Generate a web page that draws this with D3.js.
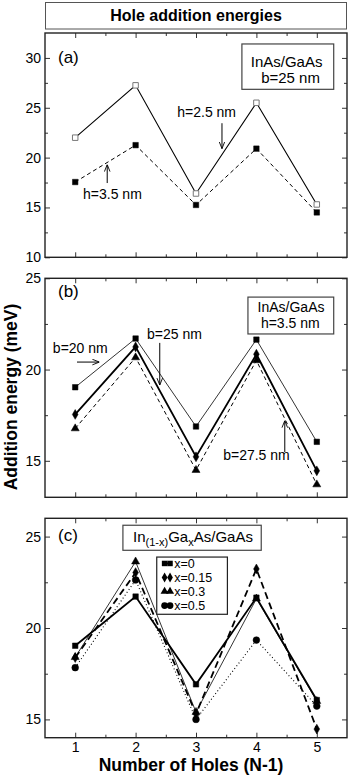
<!DOCTYPE html>
<html>
<head>
<meta charset="utf-8">
<script src="https://cdn.jsdelivr.net/npm/d3@7"></script>
<style>
  body { margin: 0; background: #fff; }
  svg text { font-family: "Liberation Sans", Arial, Helvetica, sans-serif; fill: #000; }
</style>
</head>
<body>
<svg id="chart" width="360" height="779"></svg>
<script>
// data
const holes = [1, 2, 3, 4, 5];
const xMinor = [1.5, 2.5, 3.5, 4.5];

// (a) InAs/GaAs, b=25 nm
const aH25 = [22.0, 27.25, 16.4, 25.5, 15.3];
const aH35 = [17.55, 21.25, 15.25, 20.9, 14.5];

// (b) InAs/GaAs, h=3.5 nm
const bB20 = [19.03, 21.7, 16.88, 21.64, 16.04];
const bB25 = [17.54, 21.24, 15.22, 20.84, 14.45];
const bB275 = [16.77, 20.66, 14.49, 20.5, 13.7];

// (c) In(1-x)GaxAs/GaAs
const cX0 = [19.03, 21.72, 16.92, 21.66, 16.06];
const cX015 = [18.38, 23.03, 15.3, 23.23, 14.47];
const cX03 = [18.4, 23.63, 15.4, 21.6, 16.0];
const cX05 = [17.83, 22.63, 15.0, 19.34, 15.73];
const legendLabels = ["x=0", "x=0.15", "x=0.3", "x=0.5"];

const svg = d3.select("#chart");
const x = d3.scaleLinear().domain([0.5, 5.5]).range([45, 347]);

const sq = d3.symbol().type(d3.symbolSquare);
const dia = d3.symbol().type(d3.symbolDiamond);
const tri = d3.symbol().type(d3.symbolTriangle);
const circ = d3.symbol().type(d3.symbolCircle);

// arrowhead
svg.append("defs").append("marker")
    .attr("id", "arr")
    .attr("viewBox", "0 0 10 10")
    .attr("refX", 10).attr("refY", 5)
    .attr("markerWidth", 7).attr("markerHeight", 7)
    .attr("markerUnits", "userSpaceOnUse")
    .attr("orient", "auto")
  .append("path")
    .attr("d", "M0,1 L10,5 L0,9")
    .attr("fill", "none")
    .attr("stroke", "#000")
    .attr("stroke-width", 1.3);

// title box
svg.append("rect")
    .attr("x", 45.5).attr("y", 2.5).attr("width", 301).attr("height", 26.5)
    .attr("fill", "#fff").attr("stroke", "#555").attr("stroke-width", 1);
svg.append("text")
    .attr("x", 196).attr("y", 21)
    .attr("text-anchor", "middle")
    .style("font-size", "16px").style("font-weight", "bold")
    .text("Hole addition energies");

const panels = [
  {
    label: "(a)", labelY: 29.5, top: 33, bottom: 257.3, domain: [10, 32.5],
    major: [10, 15, 20, 25, 30], minor: [12.5, 17.5, 22.5, 27.5],
    xLabels: false,
    series: [
      {v: aH25, sym: sq.size(26), fill: "#fff", stroke: "#777", dash: null, w: 1.1},
      {v: aH35, sym: sq.size(30), fill: "#000", stroke: "#000", dash: "4,3", w: 1}
    ],
    box: {x0: 3.76, x1: 5.28, y0: 31.4, y1: 26.85, size: 15,
          lines: [{t: "InAs/GaAs", x: 4.5, y: 29.12}, {t: "b=25 nm", x: 4.565, y: 27.45}]},
    notes: [
      {t: "h=2.5 nm", x: 2.69, y: 24.05},
      {t: "h=3.5 nm", x: 1.13, y: 15.85}
    ],
    arrows: [
      {x1: 3.43, y1: 23.45, x2: 3.43, y2: 20.9},
      {x1: 1.53, y1: 17.45, x2: 1.53, y2: 19.3}
    ]
  },
  {
    label: "(b)", labelY: 24.0, top: 278.3, bottom: 497.3, domain: [13, 25],
    major: [15, 20, 25], minor: [17.5, 22.5],
    xLabels: false,
    series: [
      {v: bB20, sym: sq.size(30), fill: "#000", stroke: "#000", dash: null, w: 0.8},
      {v: bB25, sym: dia.size(28), fill: "#000", stroke: "#000", dash: null, w: 1.8},
      {v: bB275, sym: tri.size(26), fill: "#000", stroke: "#000", dash: "4,3", w: 1}
    ],
    box: {x0: 3.86, x1: 5.28, y0: 23.97, y1: 21.95, size: 14,
          lines: [{t: "InAs/GaAs", x: 4.573, y: 23.15}, {t: "h=3.5 nm", x: 4.561, y: 22.27}]},
    notes: [
      {t: "b=20 nm", x: 0.63, y: 20.9},
      {t: "b=25 nm", x: 2.19, y: 21.68},
      {t: "b=27.5 nm", x: 3.45, y: 15.04}
    ],
    arrows: [
      {x1: 1.03, y1: 20.41, x2: 1.4, y2: 20.41},
      {x1: 2.4, y1: 21.46, x2: 2.4, y2: 19.15},
      {x1: 4.47, y1: 15.48, x2: 4.47, y2: 17.2}
    ]
  },
  {
    label: "(c)", labelY: 24.75, top: 518.3, bottom: 737.7, domain: [14, 26],
    major: [15, 20, 25], minor: [17.5, 22.5],
    xLabels: true,
    series: [
      {v: cX0, sym: sq.size(30), fill: "#000", stroke: "#000", dash: null, w: 1.8},
      {v: cX015, sym: dia.size(28), fill: "#000", stroke: "#000", dash: "7,4", w: 1.8},
      {v: cX03, sym: tri.size(28), fill: "#000", stroke: "#000", dash: null, w: 0.8},
      {v: cX05, sym: circ.size(36), fill: "#000", stroke: "#000", dash: "1,2.5", w: 1.1}
    ],
    notes: [],
    arrows: []
  }
];

panels.forEach((p) => {
  const y = d3.scaleLinear().domain(p.domain).range([p.bottom, p.top]);
  const g = svg.append("g");

  // ticks on all four sides, pointing inward
  const ax = [
    [d3.axisBottom(x).tickValues(holes).tickSize(-5).tickPadding(4)
       .tickFormat(p.xLabels ? d3.format("d") : ""), "translate(0," + p.bottom + ")", 14],
    [d3.axisBottom(x).tickValues(xMinor).tickSize(-3).tickFormat(""), "translate(0," + p.bottom + ")"],
    [d3.axisTop(x).tickValues(holes).tickSize(-5).tickFormat(""), "translate(0," + p.top + ")"],
    [d3.axisTop(x).tickValues(xMinor).tickSize(-3).tickFormat(""), "translate(0," + p.top + ")"],
    [d3.axisLeft(y).tickValues(p.major).tickSize(-5).tickPadding(4), "translate(45,0)", 14],
    [d3.axisLeft(y).tickValues(p.minor).tickSize(-3).tickFormat(""), "translate(45,0)"],
    [d3.axisRight(y).tickValues(p.major).tickSize(-5).tickFormat(""), "translate(347,0)"],
    [d3.axisRight(y).tickValues(p.minor).tickSize(-3).tickFormat(""), "translate(347,0)"]
  ];
  ax.forEach(([a, tr, fs]) => {
    const s = g.append("g").attr("transform", tr).call(a);
    s.select(".domain").remove();
    s.selectAll("line").attr("stroke", "#333").attr("stroke-width", 1);
    s.selectAll("text").style("font-size", (fs || 14) + "px").style("font-family", null);
  });

  // frame
  g.append("rect")
      .attr("x", 45).attr("y", p.top)
      .attr("width", 302).attr("height", p.bottom - p.top)
      .attr("fill", "none").attr("stroke", "#222").attr("stroke-width", 1.4);

  // panel letter
  g.append("text")
      .attr("x", 58).attr("y", y(p.labelY))
      .style("font-size", "17px")
      .text(p.label);

  // lines + markers
  const line = d3.line().x((d, i) => x(holes[i])).y((d) => y(d));
  p.series.forEach((s) => {
    g.append("path")
        .datum(s.v)
        .attr("d", line)
        .attr("fill", "none")
        .attr("stroke", "#000")
        .attr("stroke-width", s.w)
        .attr("stroke-dasharray", s.dash);
    g.selectAll(null)
        .data(s.v)
      .enter().append("path")
        .attr("transform", (d, i) => "translate(" + x(holes[i]) + "," + y(d) + ")")
        .attr("d", s.sym)
        .attr("fill", s.fill)
        .attr("stroke", s.stroke)
        .attr("stroke-width", s.fill === "#fff" ? 1 : 0.5);
  });

  // info box
  if (p.box) {
    const b = p.box;
    g.append("rect")
        .attr("x", x(b.x0)).attr("y", y(b.y0))
        .attr("width", x(b.x1) - x(b.x0)).attr("height", y(b.y1) - y(b.y0))
        .attr("fill", "#fff").attr("stroke", "#444").attr("stroke-width", 1.2);
    b.lines.forEach((l) => {
      g.append("text")
          .attr("x", x(l.x)).attr("y", y(l.y))
          .attr("text-anchor", "middle")
          .style("font-size", b.size + "px")
          .text(l.t);
    });
  }

  p.notes.forEach((n) => {
    g.append("text")
        .attr("x", x(n.x)).attr("y", y(n.y))
        .style("font-size", "14px")
        .text(n.t);
  });
  p.arrows.forEach((a) => {
    g.append("line")
        .attr("x1", x(a.x1)).attr("y1", y(a.y1))
        .attr("x2", x(a.x2)).attr("y2", y(a.y2))
        .attr("stroke", "#000").attr("stroke-width", 1)
        .attr("marker-end", "url(#arr)");
  });

  p.y = y;
  p.g = g;
});

// (c) composition label and legend
const pc = panels[2];
const yc = pc.y;
pc.g.append("rect")
    .attr("x", x(1.79)).attr("y", yc(25.62))
    .attr("width", x(4.08) - x(1.79)).attr("height", yc(24.25) - yc(25.62))
    .attr("fill", "#fff").attr("stroke", "#444").attr("stroke-width", 1.2);
const comp = pc.g.append("text")
    .attr("x", x(2.95)).attr("y", yc(24.7))
    .attr("text-anchor", "middle")
    .style("font-size", "15px");
comp.append("tspan").text("In");
comp.append("tspan").attr("dy", 4).style("font-size", "11px").text("(1-x)");
comp.append("tspan").attr("dy", -4).text("Ga");
comp.append("tspan").attr("dy", 4).style("font-size", "11px").text("x");
comp.append("tspan").attr("dy", -4).text("As/GaAs");

const lg = pc.g.append("g");
lg.append("rect")
    .attr("x", x(2.35)).attr("y", yc(23.88))
    .attr("width", x(3.52) - x(2.35)).attr("height", yc(20.75) - yc(23.88))
    .attr("fill", "#fff").attr("stroke", "#222").attr("stroke-width", 1.2);
const ly = d3.scaleLinear().domain([0, 3]).range([yc(23.53), yc(21.23)]);
pc.series.forEach((s, i) => {
  const yy = ly(i);
  lg.append("line")
      .attr("x1", x(2.48)).attr("x2", x(2.57))
      .attr("y1", yy).attr("y2", yy)
      .attr("stroke", "#000").attr("stroke-width", s.w)
      .attr("stroke-dasharray", i === 1 ? "2,1.5" : (i === 3 ? "1,1.5" : null));
  [2.48, 2.57].forEach((xx) => {
    lg.append("path")
        .attr("transform", "translate(" + x(xx) + "," + yy + ")")
        .attr("d", s.sym)
        .attr("fill", "#000");
  });
  lg.append("text")
      .attr("x", x(2.64)).attr("y", yy + 4.5)
      .style("font-size", "12.5px")
      .text(legendLabels[i]);
});

// axis titles
svg.append("text")
    .attr("transform", "translate(17,397) rotate(-90)")
    .attr("text-anchor", "middle")
    .style("font-size", "17.5px").style("font-weight", "bold")
    .text("Addition energy (meV)");
svg.append("text")
    .attr("x", 191).attr("y", 771)
    .attr("text-anchor", "middle")
    .style("font-size", "17.5px").style("font-weight", "bold")
    .text("Number of Holes (N-1)");
</script>
</body>
</html>
